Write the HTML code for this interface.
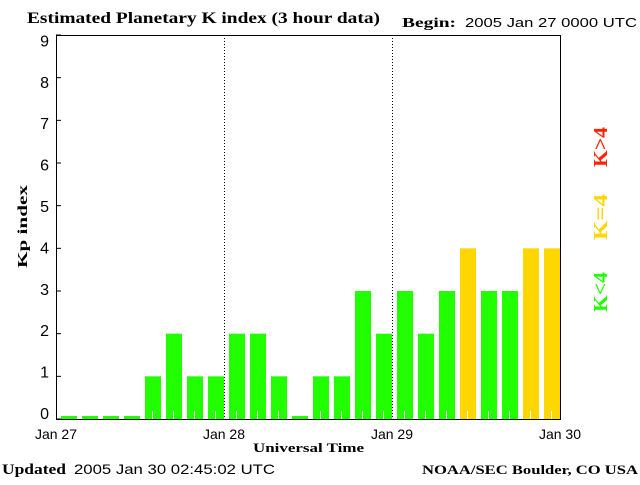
<!DOCTYPE html>
<html><head><meta charset="utf-8"><style>
body{margin:0;background:#fff}
svg text{font-family:"Liberation Sans",sans-serif}
.serif{font-family:"Liberation Serif",serif;font-weight:bold}
</style></head><body>
<svg width="640" height="480" xmlns="http://www.w3.org/2000/svg">
<rect width="640" height="480" fill="#fff"/>
<text class="serif" x="27" y="23" font-size="16" textLength="353" lengthAdjust="spacingAndGlyphs">Estimated Planetary K index (3 hour data)</text>
<text class="serif" x="402" y="27" font-size="14" textLength="54" lengthAdjust="spacingAndGlyphs">Begin:</text>
<text x="465" y="27" font-size="13" textLength="172" lengthAdjust="spacingAndGlyphs">2005 Jan 27 0000 UTC</text>
<g id="plot"></g>
<text class="serif" x="253" y="452" font-size="13" textLength="111" lengthAdjust="spacingAndGlyphs">Universal Time</text>
<text class="serif" x="27" y="268" font-size="14" textLength="83" lengthAdjust="spacingAndGlyphs" transform="rotate(-90 27 268)">Kp index</text>
<text class="serif" x="2" y="474" font-size="15" textLength="64" lengthAdjust="spacingAndGlyphs">Updated</text>
<text x="74" y="474" font-size="14" textLength="201" lengthAdjust="spacingAndGlyphs">2005 Jan 30 02:45:02 UTC</text>
<text class="serif" x="422" y="474" font-size="13" textLength="216" lengthAdjust="spacingAndGlyphs">NOAA/SEC Boulder, CO USA</text>
<text class="serif" x="607" y="167" font-size="20" fill="#ff2200" textLength="40" lengthAdjust="spacingAndGlyphs" transform="rotate(-90 607 167)">K&gt;4</text>
<text class="serif" x="607" y="240" font-size="20" fill="#ffd700" textLength="46" lengthAdjust="spacingAndGlyphs" transform="rotate(-90 607 240)">K=4</text>
<text class="serif" x="607" y="312" font-size="20" fill="#22ff00" textLength="40" lengthAdjust="spacingAndGlyphs" transform="rotate(-90 607 312)">K&lt;4</text>
</svg>
<script>
const kpValues=[0,0,0,0,1,2,1,1,2,2,1,0,1,1,3,2,3,2,3,4,3,3,4,4];
const yTicks=[0,1,2,3,4,5,6,7,8,9];
const dayLabels=["Jan 27","Jan 28","Jan 29","Jan 30"];
const NS="http://www.w3.org/2000/svg";
const L=56,R=560,T=35,B=419;
const y=v=>B-(B-T)*v/9;
const ly=v=>413-41.4*v;
const x=i=>L+(R-L)*i/24;
const g=document.getElementById('plot');
function mk(t,a){const e=document.createElementNS(NS,t);for(const k in a)e.setAttribute(k,a[k]);g.appendChild(e);return e;}
kpValues.forEach((v,i)=>{
 const col=v>4?'#ff2200':(v==4?'#ffd700':'#22ff00');
 const top=v===0?B-3:y(v);
 const r=mk('rect',{x:x(i)+5,y:top,width:16,height:B-top,fill:col});
 
 
 if(v>0){const w=mk('rect',{x:x(i)+12,y:B-8,width:1,height:8,fill:'#fff'});
 
 }
});
dayLabels.forEach((d,i)=>{
 const xx=x(i*8);
 if(i>0&&i<3){const l=mk('line',{x1:xx+.5,x2:xx+.5,y1:T,y2:B,stroke:'#000','stroke-dasharray':'1,2'});
 
 }
 const t=mk('text',{x:xx,y:439,'font-size':14,'text-anchor':'middle'});t.textContent=d;
 
 
});
yTicks.forEach(v=>{
 const t=mk('text',{x:49,y:ly(v)+6,'font-size':16,'text-anchor':'end'});t.textContent=v;
 
 
 const k=mk('line',{x1:L,x2:L+5,y1:y(v),y2:y(v),stroke:'#000'});
 
 
});
const f=mk('rect',{x:L+.5,y:T+.5,width:R-L,height:B-T,fill:'none',stroke:'#000'});


</script>
</body></html>
